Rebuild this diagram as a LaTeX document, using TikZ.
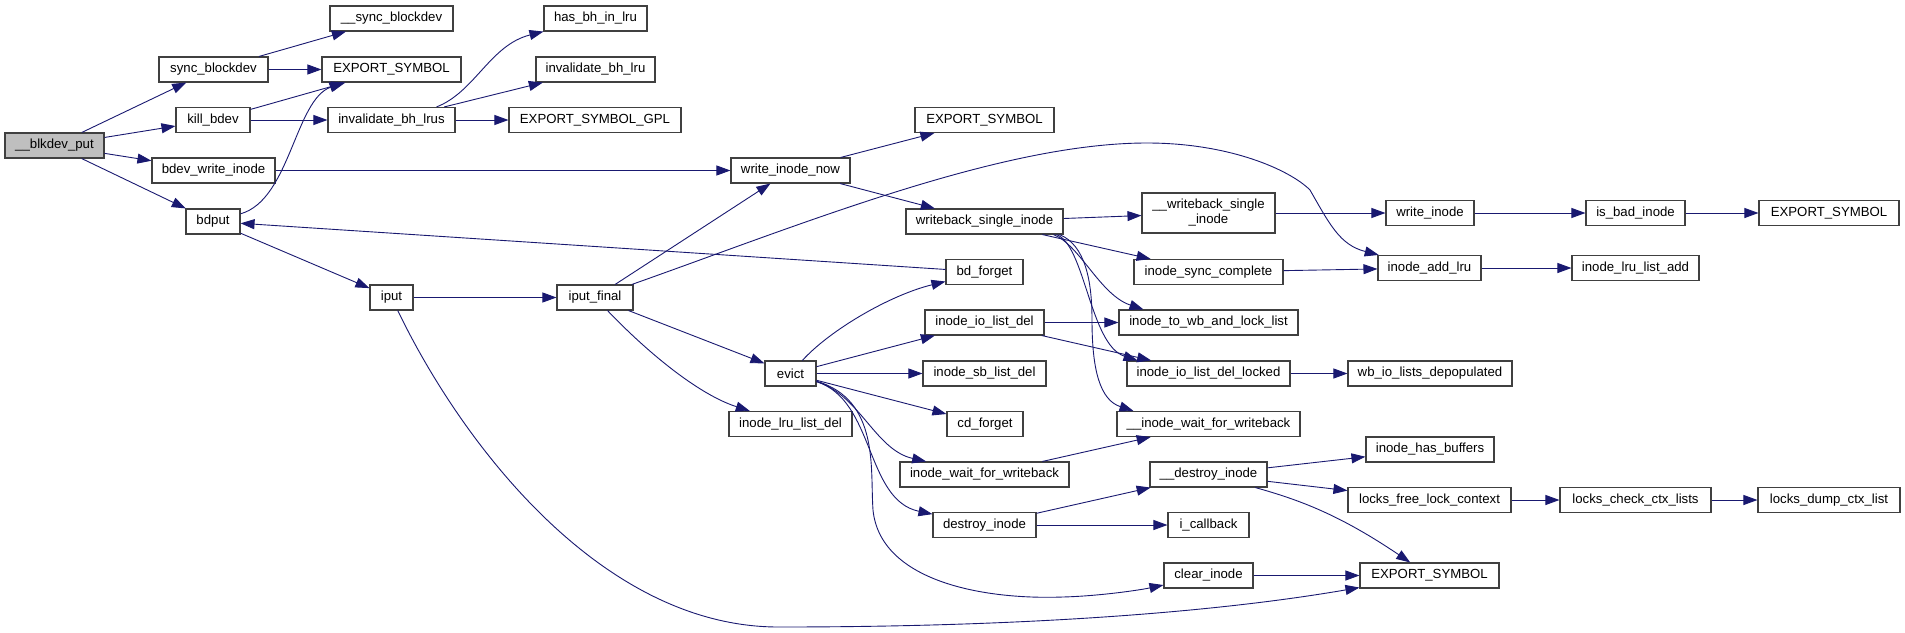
\documentclass[tikz,border=0pt]{standalone}
\usepackage{fontspec}
\setmainfont{Liberation Sans}
\usetikzlibrary{arrows.meta,calc}
\definecolor{edgeblue}{HTML}{191970}
\definecolor{boxgray}{HTML}{404040}
\definecolor{rootfill}{HTML}{BFBFBF}
\begin{document}
\begin{tikzpicture}[x=1pt,y=-1pt,
  box/.style={draw=boxgray,line width=1.1pt,fill=white,inner sep=0pt,minimum height=25pt,
    font=\fontsize{13.2pt}{15pt}\selectfont,text=black,align=center},
  e/.style={draw=edgeblue,line width=0.9pt,-{Triangle[length=14pt,width=10pt]}}]
\useasboundingbox (0,0) rectangle (1905,632);
% column 0
\node[box,fill=rootfill,minimum width=99pt] (blk) at (54.5,145.5) {\_\_blkdev\_put};
% column 1
\node[box,minimum width=109pt] (syncb) at (213.5,69.5) {sync\_blockdev};
\node[box,minimum width=74pt] (killb) at (213,120) {kill\_bdev};
\node[box,minimum width=123pt] (bwi) at (213.5,170.5) {bdev\_write\_inode};
\node[box,minimum width=54pt] (bdput) at (213,221.5) {bdput};
% column 2
\node[box,minimum width=123pt] (usyncb) at (391.5,18.5) {\_\_sync\_blockdev};
\node[box,minimum width=139pt] (ex1) at (391.5,69.5) {EXPORT\_SYMBOL};
\node[box,minimum width=127pt] (ibhls) at (391.5,120) {invalidate\_bh\_lrus};
\node[box,minimum width=43pt] (iput) at (391.5,297.5) {iput};
% column 3
\node[box,minimum width=103pt] (hbl) at (595.5,18.5) {has\_bh\_in\_lru};
\node[box,minimum width=119pt] (ibhl) at (595.5,69.5) {invalidate\_bh\_lru};
\node[box,minimum width=172pt] (gpl) at (595,120) {EXPORT\_SYMBOL\_GPL};
\node[box,minimum width=76pt] (ipf) at (595,297.5) {iput\_final};
% column 4
\node[box,minimum width=119pt] (win) at (790.5,170.5) {write\_inode\_now};
\node[box,minimum width=51pt] (evict) at (790.5,373.5) {evict};
\node[box,minimum width=123pt] (ilrud) at (790.5,424) {inode\_lru\_list\_del};
% column 5
\node[box,minimum width=139pt] (ex2) at (984.5,120) {EXPORT\_SYMBOL};
\node[box,minimum width=157pt] (wsi) at (984.5,221.5) {writeback\_single\_inode};
\node[box,minimum width=77pt] (bdf) at (984.5,272) {bd\_forget};
\node[box,minimum width=119pt] (iiod) at (984.5,322.5) {inode\_io\_list\_del};
\node[box,minimum width=123pt] (isbd) at (984.5,373.5) {inode\_sb\_list\_del};
\node[box,minimum width=76pt] (cdf) at (985,424) {cd\_forget};
\node[box,minimum width=169pt] (iwfw) at (984.5,474.5) {inode\_wait\_for\_writeback};
\node[box,minimum width=103pt] (dsti) at (984.5,525) {destroy\_inode};
% column 6
\node[box,minimum width=133pt,minimum height=40pt] (uwsi) at (1208.5,213) {\_\_writeback\_single\\\_inode};
\node[box,minimum width=149pt] (isc) at (1208.5,272) {inode\_sync\_complete};
\node[box,minimum width=179pt] (itwb) at (1208.5,322.5) {inode\_to\_wb\_and\_lock\_list};
\node[box,minimum width=163pt] (iiodl) at (1208.5,373.5) {inode\_io\_list\_del\_locked};
\node[box,minimum width=183pt] (uiww) at (1208.5,424) {\_\_inode\_wait\_for\_writeback};
\node[box,minimum width=117pt] (udsti) at (1208.5,474.5) {\_\_destroy\_inode};
\node[box,minimum width=81pt] (icb) at (1208.5,525) {i\_callback};
\node[box,minimum width=89pt] (clri) at (1208.5,575.5) {clear\_inode};
% column 7
\node[box,minimum width=88pt] (wri) at (1430,213) {write\_inode};
\node[box,minimum width=103pt] (ial) at (1429.5,268) {inode\_add\_lru};
\node[box,minimum width=164pt] (wbio) at (1430,373.5) {wb\_io\_lists\_depopulated};
\node[box,minimum width=128pt] (ihb) at (1430,449.5) {inode\_has\_buffers};
\node[box,minimum width=163pt] (lflc) at (1429.5,500) {locks\_free\_lock\_context};
\node[box,minimum width=139pt] (ex4) at (1429.5,575.5) {EXPORT\_SYMBOL};
% column 8
\node[box,minimum width=99pt] (ibi) at (1635.5,213) {is\_bad\_inode};
\node[box,minimum width=127pt] (illa) at (1635.5,268) {inode\_lru\_list\_add};
\node[box,minimum width=151pt] (lccl) at (1635.5,500) {locks\_check\_ctx\_lists};
% column 9
\node[box,minimum width=140pt] (ex3) at (1829,213) {EXPORT\_SYMBOL};
\node[box,minimum width=142pt] (ldcl) at (1829,500) {locks\_dump\_ctx\_list};

% edges
\draw[e] (blk) -- (syncb);
\draw[e] (blk) -- (killb);
\draw[e] (blk) -- (bwi);
\draw[e] (blk) -- (bdput);
\draw[e] (syncb) -- (usyncb);
\draw[e] (syncb) -- (ex1);
\draw[e] (killb) -- (ex1);
\draw[e] (killb) -- (ibhls);
\draw[e] (bdput) .. controls (290,200) and (295,100) .. ([xshift=-48pt]ex1.south);
\draw[e] ([xshift=45pt]ibhls.north) .. controls (475,92) and (490,45) .. (hbl.south west);
\draw[e] (ibhls) -- (ibhl);
\draw[e] (ibhls) -- (gpl);
\draw[e] (bwi) -- (win);
\draw[e] (bdput) -- (iput);
\draw[e] (bdf) -- (bdput);
\draw[e] (iput) -- (ipf);
\draw[e] (iput) .. controls (460,440) and (600,628) .. (780,627) .. controls (1000,627) and (1200,615) .. (ex4);
\draw[e] (ipf) -- (win);
\draw[e] (ipf) .. controls (800,225) and (1000,143) .. (1147,143) .. controls (1230,143) and (1290,170) .. (1310,190) .. controls (1330,225) and (1340,245) .. (ial);
\draw[e] (ipf) -- (evict);
\draw[e] (ipf) .. controls (650,355) and (700,395) .. (ilrud);
\draw[e] (win) -- (ex2);
\draw[e] (win) -- (wsi);
\draw[e] (wsi) -- (uwsi);
\draw[e] (wsi) -- (isc);
\draw[e] ([xshift=69pt]wsi.south) .. controls (1080,245) and (1100,295) .. ([xshift=-65pt]itwb.north);
\draw[e] ([xshift=72pt]wsi.south) .. controls (1085,245) and (1090,345) .. ([xshift=-71pt]iiodl.north);
\draw[e] ([xshift=75pt]wsi.south) .. controls (1085,245) and (1092,280) .. (1092,320) .. controls (1092,370) and (1100,400) .. ([xshift=-75pt]uiww.north);
\draw[e] (uwsi) -- (wri);
\draw[e] (wri) -- (ibi);
\draw[e] (ibi) -- (ex3);
\draw[e] (isc) -- (ial);
\draw[e] (ial) -- (illa);
\draw[e] (evict) .. controls (830,330) and (890,295) .. (bdf);
\draw[e] (evict) -- (iiod);
\draw[e] (evict) -- (isbd);
\draw[e] (evict) -- (cdf);
\draw[e] (evict) .. controls (860,395) and (875,450) .. (iwfw);
\draw[e] (evict) .. controls (875,400) and (865,500) .. (dsti);
\draw[e] (evict) .. controls (880,400) and (870,470) .. (873,510) .. controls (880,580) and (980,600) .. (1063,597) .. controls (1100,596) and (1140,590) .. (clri);
\draw[e] (iiod) -- (itwb);
\draw[e] (iiod) -- (iiodl);
\draw[e] (iiodl) -- (wbio);
\draw[e] (iwfw) -- (uiww);
\draw[e] (dsti) -- (udsti);
\draw[e] (dsti) -- (icb);
\draw[e] (udsti) -- (ihb);
\draw[e] (udsti) -- (lflc);
\draw[e] (udsti) .. controls (1300,500) and (1340,515) .. (ex4);
\draw[e] (lflc) -- (lccl);
\draw[e] (lccl) -- (ldcl);
\draw[e] (clri) -- (ex4);
\end{tikzpicture}
\end{document}
